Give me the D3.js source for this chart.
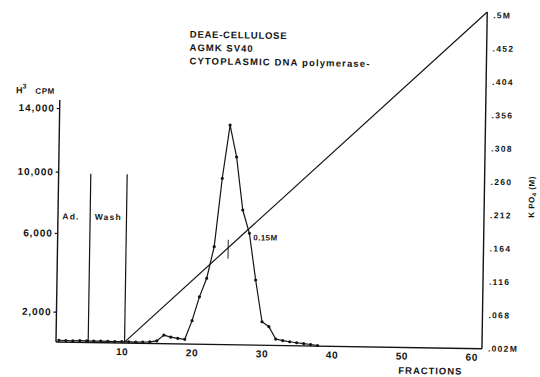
<!DOCTYPE html>
<html>
<head>
<meta charset="utf-8">
<script src="https://cdn.jsdelivr.net/npm/d3@7/dist/d3.min.js"></script>
<style>
  html, body { margin: 0; padding: 0; background: #fff; }
  svg { display: block; }
  text { font-family: "Liberation Sans", Arial, sans-serif; font-weight: bold; fill: #141414; }
</style>
</head>
<body>
<svg id="chart" width="540" height="377"></svg>
<script>
// ---- data: DEAE-cellulose elution profile ----
const fractions = [1,2,3,4,5,6,7,8,9,10,11,12,13,14,15,16,17,18,19,20,21,22,23,24,25,26,27,28,29,30,31,32,33,34,35,36,37,38];
const cpm = [120,110,100,110,100,100,110,100,90,100,90,80,90,100,180,570,440,370,310,1550,2870,3820,5430,9740,13100,11100,7690,6180,3770,1550,1230,420,330,260,200,150,100,40];

// left axis (H3 CPM)
const cpmTicks = [2000, 6000, 10000, 14000];
const cpmTickLabels = ["2,000", "6,000", "10,000", "14,000"];

// right axis (KPO4 molarity)
const molarTickLabels = [".002M", ".068", ".116", ".164", ".212", ".260", ".308", ".356", ".404", ".452", ".5M"];

// bottom axis
const fractionTicks = [10, 20, 30, 40, 50, 60];

// linear salt gradient: start fraction / end fraction and molarity
const gradientFractions = [10.4, 61.5];
const gradientMolarity = [0.002, 0.5];

// loading ("Ad.") and wash phases end at these fractions
const phaseEnds = [5.2, 10.4];
const phaseLabels = ["Ad.", "Wash"];
const phaseTopCpm = 9900;

// enzyme peak fraction and where it elutes on the gradient
const peakFraction = 25;
const elutionFraction = 28;
const elutionLabel = "0.15M";

const titleLines = ["DEAE-CELLULOSE", "AGMK SV40", "CYTOPLASMIC DNA polymerase-"];

// ---- layout ----
const svg = d3.select("#chart");
const ink = "#141414";
const g = svg.append("g").attr("transform", "rotate(0.9,56,342)");

const x = d3.scaleLinear().domain([0.6, 61.5]).range([56, 482]);
const yCpm = d3.scaleLinear().domain([0].concat(cpmTicks)).range([342, 311.7, 233, 171.7, 108]);
const yMolar = d3.scaleLinear().domain(gradientMolarity).range([341, 5.2]);
const yMolarAxis = d3.scalePoint().domain(molarTickLabels).range([341.5, 8.2]);

// frame lines
g.append("line").attr("x1", x(0.6)).attr("x2", x(61.5)).attr("y1", yCpm(0)).attr("y2", yCpm(0))
  .attr("stroke", ink).attr("stroke-width", 1.4);
g.append("line").attr("x1", x(0.6)).attr("x2", x(0.6)).attr("y1", yCpm(0)).attr("y2", yCpm(14000) - 8)
  .attr("stroke", ink).attr("stroke-width", 1.4);
g.append("line").attr("x1", x(61.5)).attr("x2", x(61.5)).attr("y1", yCpm(0)).attr("y2", yMolar(0.5))
  .attr("stroke", ink).attr("stroke-width", 1.4);

// left axis
const leftAxis = g.append("g").attr("transform", `translate(${x(0.6)},0)`)
  .call(d3.axisLeft(yCpm).tickValues(cpmTicks).tickFormat((d, i) => cpmTickLabels[i]).tickSize(3).tickPadding(2));
leftAxis.select(".domain").remove();
leftAxis.selectAll(".tick line").attr("stroke", ink).attr("stroke-width", 1.2);
leftAxis.selectAll("text").attr("font-size", 10).attr("letter-spacing", 0.9).attr("fill", ink);

// left axis title  H3 CPM
const yt = g.append("text").attr("x", 12).attr("y", yCpm(14000) - 14).attr("font-size", 9);
yt.append("tspan").text("H");
yt.append("tspan").attr("dy", -5).attr("font-size", 7).text("3");
yt.append("tspan").attr("dy", 5).attr("dx", 9).attr("font-size", 8).attr("letter-spacing", 0.6).text("CPM");

// bottom axis
const bottomAxis = g.append("g").attr("transform", `translate(0,${yCpm(0)})`)
  .call(d3.axisBottom(x).tickValues(fractionTicks).tickSize(0).tickPadding(5));
bottomAxis.select(".domain").remove();
bottomAxis.selectAll("text").attr("font-size", 10).attr("letter-spacing", 0.6).attr("fill", ink);

g.append("text").attr("x", 398.8).attr("y", 368.3).attr("font-size", 9.5)
  .attr("textLength", 63).attr("lengthAdjust", "spacing").text("FRACTIONS");

// right axis
const rightAxis = g.append("g").attr("transform", `translate(${x(61.5)},0)`)
  .call(d3.axisRight(yMolarAxis).tickSize(0).tickPadding(6));
rightAxis.select(".domain").remove();
rightAxis.selectAll("text").attr("font-size", 8.5).attr("letter-spacing", 1.3).attr("fill", ink);

g.append("text").attr("transform", "translate(532,189.5) rotate(-90)")
  .attr("text-anchor", "middle").attr("font-size", 8).attr("letter-spacing", 0.5)
  .call(t => {
    t.append("tspan").text("K PO");
    t.append("tspan").attr("dy", 2).attr("font-size", 6).text("4");
    t.append("tspan").attr("dy", -2).text(" (M)");
  });

// title block
g.selectAll("text.title").data(titleLines).join("text").attr("class", "title")
  .attr("x", 185).attr("y", (d, i) => 35.5 + i * 13.3)
  .attr("font-size", 9.5)
  .attr("textLength", (d, i) => [96.7, 63, 180][i]).attr("lengthAdjust", "spacing")
  .text(d => d);

// phase boundaries and labels
g.selectAll("line.phase").data(phaseEnds).join("line").attr("class", "phase")
  .attr("x1", d => x(d)).attr("x2", d => x(d))
  .attr("y1", yCpm(0)).attr("y2", yCpm(phaseTopCpm))
  .attr("stroke", ink).attr("stroke-width", 1.2);
const phaseStarts = [0.6].concat(phaseEnds.slice(0, -1));
g.selectAll("text.phase").data(phaseLabels).join("text").attr("class", "phase")
  .attr("x", (d, i) => (x(phaseStarts[i]) + x(phaseEnds[i])) / 2 + [-3, 0][i])
  .attr("y", yCpm(6900))
  .attr("text-anchor", "middle").attr("font-size", 8.5).attr("letter-spacing", 1.2)
  .text(d => d);

// salt gradient
const gradient = gradientFractions.map((f, i) => ({ f, m: gradientMolarity[i] }));
const gradientAt = d3.scaleLinear().domain(gradientFractions).range(gradientMolarity);
g.append("path").datum(gradient)
  .attr("d", d3.line().x(d => x(d.f)).y(d => yMolar(d.m)))
  .attr("fill", "none").attr("stroke", ink).attr("stroke-width", 1.2);

// marker on the gradient at the peak fraction
g.append("line")
  .attr("x1", x(peakFraction)).attr("x2", x(peakFraction))
  .attr("y1", yMolar(gradientAt(peakFraction)) - 8).attr("y2", yMolar(gradientAt(peakFraction)) + 11)
  .attr("stroke", ink).attr("stroke-width", 0.9);

// elution profile
const profile = fractions.map((f, i) => ({ f, v: cpm[i] }));
g.append("path").datum(profile)
  .attr("d", d3.line().x(d => x(d.f)).y(d => yCpm(d.v)))
  .attr("fill", "none").attr("stroke", ink).attr("stroke-width", 1.2);
g.selectAll("circle.pt").data(profile).join("circle").attr("class", "pt")
  .attr("cx", d => x(d.f)).attr("cy", d => yCpm(d.v)).attr("r", 1.6).attr("fill", ink);

const ep = profile.find(d => d.f === elutionFraction);
g.append("text").attr("x", x(ep.f) + 4).attr("y", yCpm(ep.v) + 7)
  .attr("font-size", 8).attr("letter-spacing", 0.4).attr("font-weight", "normal").text(elutionLabel);
</script>
</body>
</html>
